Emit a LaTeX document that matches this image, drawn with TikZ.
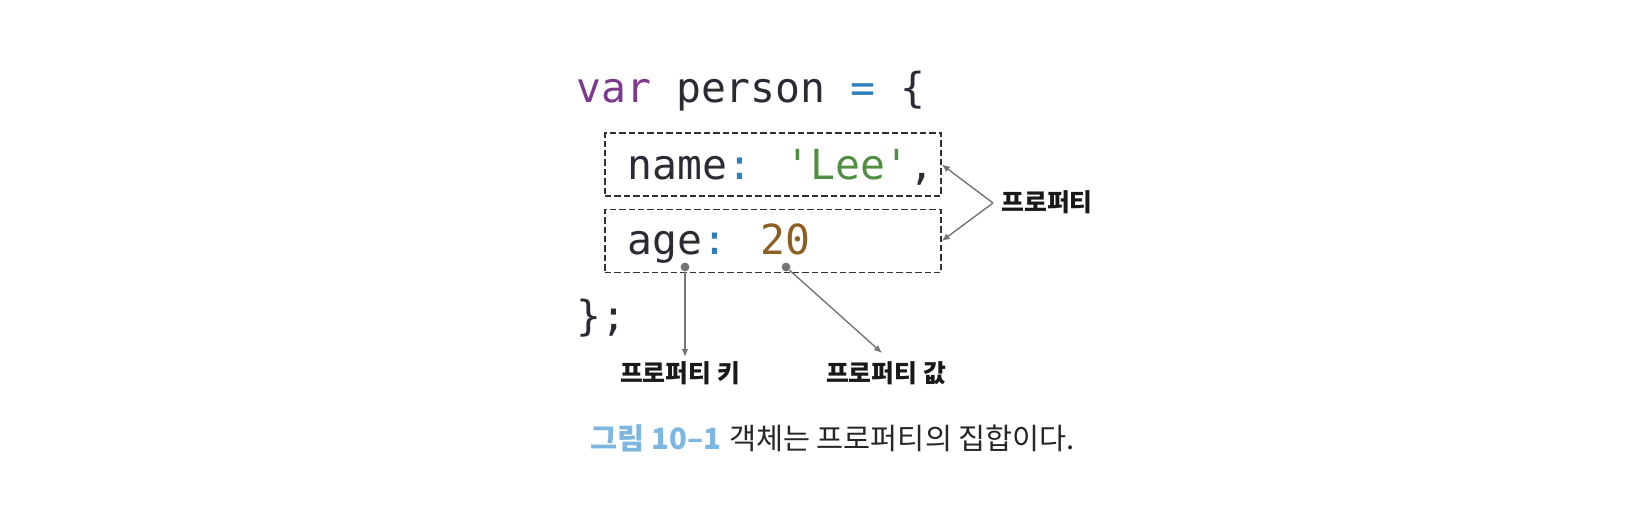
\documentclass[tikz,border=0pt]{standalone}
\usepackage{fontspec}
\usetikzlibrary{arrows.meta}
\newfontfamily\monofont{DejaVu Sans Mono}
\newfontfamily\krfont{Noto Sans CJK KR}
\definecolor{codefg}{HTML}{2B2B33}
\definecolor{kwpurple}{HTML}{7D3A8C}
\definecolor{opblue}{HTML}{2F7DBA}
\definecolor{strgreen}{HTML}{4F8F3F}
\definecolor{numbrown}{HTML}{8C5E22}
\definecolor{capblue}{HTML}{7DB6E0}
\definecolor{arrowgray}{HTML}{757575}
\definecolor{boxgray}{HTML}{303030}
\tikzset{
  codeline/.style={anchor=base west, inner sep=0pt, text=codefg, font=\monofont\fontsize{20.7pt}{25pt}\selectfont},
  propbox/.style={draw=boxgray, dash pattern=on 3.2pt off 1.5pt, line width=0.75pt, minimum width=168pt, minimum height=31.5pt, inner sep=0pt},
  pointer/.style={draw=arrowgray, line width=0.7pt, -{Latex[length=4pt,width=3.4pt]}},
  dot/.style={circle, fill=arrowgray, inner sep=0pt, minimum size=4.4pt},
  label/.style={inner sep=0pt, font=\krfont\bfseries\fontsize{12.4pt}{14pt}\selectfont, text=black!90},
  caption/.style={anchor=base west, inner sep=0pt, font=\krfont\fontsize{14.7pt}{16pt}\selectfont, text=black!85}
}
\begin{document}
\begin{tikzpicture}[x=0.5pt, y=-0.5pt]
\useasboundingbox (0,0) rectangle (1652,508);
% code
\node[codeline] (l1) at (576,103) {\textcolor{kwpurple}{var} person \textcolor{opblue}{=} \{};
\node[codeline] (l2) at (627,179) {name\textcolor{opblue}{:} \textcolor{strgreen}{'Lee'},};
\node[codeline] (l3) at (627,254) {age\textcolor{opblue}{:} \textcolor{numbrown}{20}};
\node[codeline] (l4) at (576,330) {\};};
% boxes
\node[propbox] (box1) at (773,164.5) {};
\node[propbox] (box2) at (773,241) {};
% property label
\node[label, anchor=base west] (prop) at (1001,211) {프로퍼티};
\coordinate (pj) at (993,203);
\draw[pointer] (pj) -- (box1.east);
\draw[pointer] (pj) -- (box2.east);
% key / value
\node[dot] (dk) at (685,267) {};
\node[dot] (dv) at (786,267) {};
\node[label, anchor=base] (lk) at (680,382) {프로퍼티 키};
\node[label, anchor=base] (lv) at (886,382) {프로퍼티 값};
\coordinate (ke) at (685,357);
\coordinate (ve) at (882,353);
\draw[pointer] (dk) -- (ke);
\draw[pointer] (dv) -- (ve);
% caption
\node[caption] (cap) at (590,449) {{\bfseries\color{capblue}그림 10–1}\hspace{4pt}객체는 프로퍼티의 집합이다.};
\end{tikzpicture}
\end{document}
